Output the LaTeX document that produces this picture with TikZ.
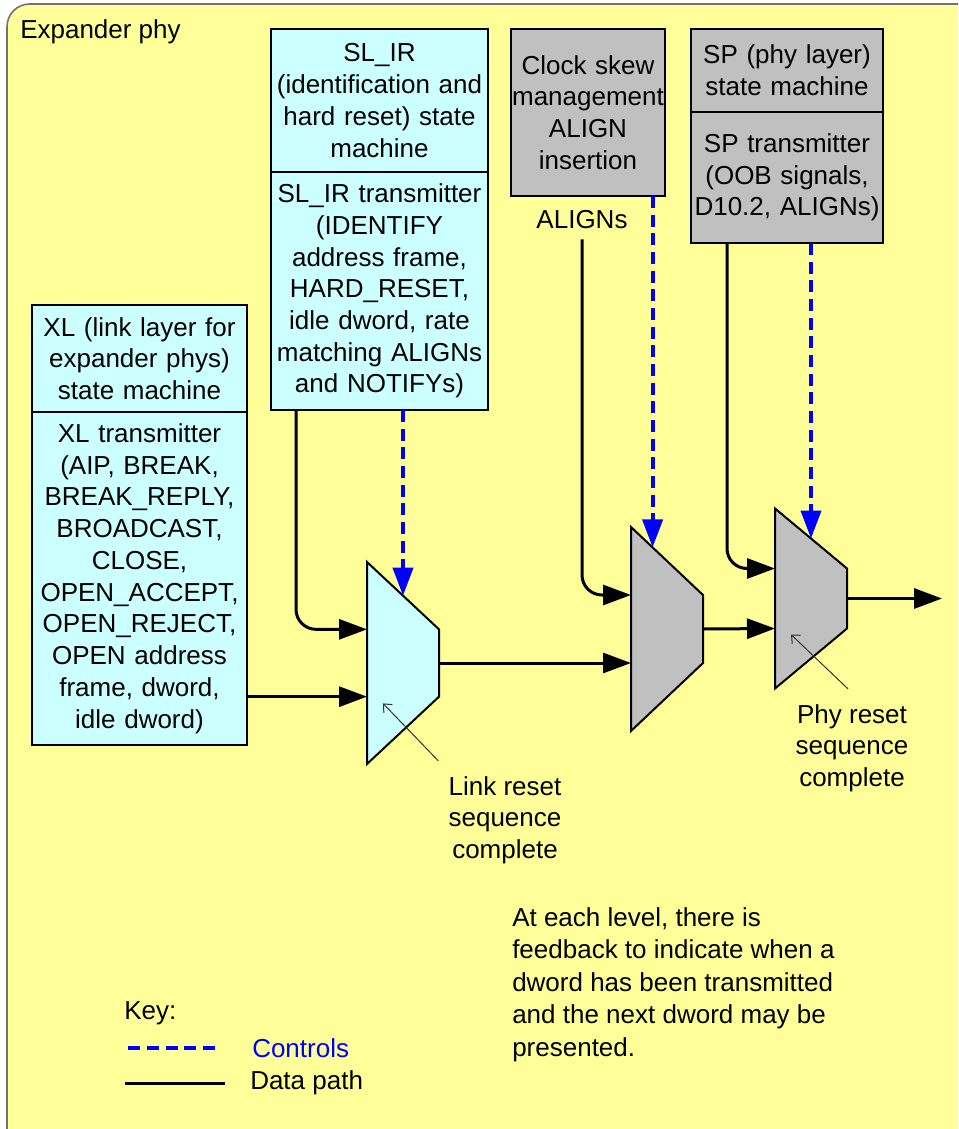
\documentclass[tikz,border=0pt]{standalone}
\usepackage{fontspec}
\setmainfont{Liberation Sans}
\usetikzlibrary{calc}
\usetikzlibrary{positioning}
\usetikzlibrary{arrows.meta}
\usepackage{xcolor}

\definecolor{phyyellow}{HTML}{FFFF99}
\definecolor{phycyan}{HTML}{CCFFFF}
\definecolor{phygray}{HTML}{C0C0C0}

% multiplexer: origin at the middle of the long (left) side
\tikzset{
  pics/mux/.style n args={2}{code={
    \draw[muxline, fill=#1] (0,-#2) coordinate (-tl) -- (72,-#2/3) coordinate (-tr)
      -- (72,#2/3) coordinate (-br) -- (0,#2) coordinate (-bl) -- cycle;
    \coordinate (-in1) at (0,-#2/3);
    \coordinate (-in2) at (0,#2/3);
    \coordinate (-out) at (72,0);
    \coordinate (-ctl) at (36,-2*#2/3);
    \coordinate (-fb) at (16,0.4*#2);
  }}
}

\begin{document}
\begin{tikzpicture}[x=0.75pt, y=-0.75pt]
  \tikzstyle{lbl} = [font=\fontsize{19.5pt}{23.8pt}\selectfont, inner sep=0pt]
  \tikzstyle{xbox} = [lbl, draw, line width=1.5pt, outer sep=0pt, align=center]
  \tikzstyle{muxline} = [draw, line width=1.5pt, line join=miter]
  \tikzstyle{data} = [line width=2.25pt, -{Triangle[length=21pt,width=15pt]}]
  \tikzstyle{ctl} = [blue, line width=3pt, dash pattern=on 9pt off 5pt,
  -{Triangle[length=21pt,width=15pt]}]
  \tikzstyle{fbline} = [black!80, line width=0.75pt, -{Straight Barb[length=5pt,width=9pt]}]

  \useasboundingbox (0,0) rectangle (958,1129);
  \clip (0,0) rectangle (958,1129);
  \draw[fill=phyyellow, draw=black!55, line width=1.2pt, rounded corners=17pt]
    (7,4) rectangle (990,1160);

  \node[lbl, anchor=west] (title) at (20,32) {Expander phy};

  % state machines and transmitters
  \node[xbox, fill=phycyan, anchor=north west, text width=162.75pt, minimum height=107.25pt]
    (slirsm) at (271,29) {SL\_IR\\(identification and\\hard reset) state\\machine};
  \node[xbox, fill=phycyan, below=0pt of slirsm, text width=162.75pt, minimum height=178.5pt]
    (slirtx) {SL\_IR transmitter\\(IDENTIFY\\address frame,\\HARD\_RESET,\\idle dword, rate\\matching ALIGNs\\and NOTIFYs)};

  \node[xbox, fill=phycyan, anchor=north west, text width=161.25pt, minimum height=80.25pt]
    (xlsm) at (32,305) {XL (link layer for\\expander phys)\\state machine};
  \node[xbox, fill=phycyan, below=0pt of xlsm, text width=161.25pt, minimum height=249.75pt]
    (xltx) {XL transmitter\\(AIP, BREAK,\\BREAK\_REPLY,\\BROADCAST,\\CLOSE,\\OPEN\_ACCEPT,\\OPEN\_REJECT,\\OPEN address\\frame, dword,\\idle dword)};

  \node[xbox, fill=phygray, anchor=north west, text width=115.5pt, minimum height=125.25pt]
    (clk) at (511,29) {Clock skew\\management\\ALIGN\\insertion};

  \node[xbox, fill=phygray, anchor=north west, text width=144pt, minimum height=62.25pt]
    (spsm) at (691,29) {SP (phy layer)\\state machine};
  \node[xbox, fill=phygray, below=0pt of spsm, text width=144pt, minimum height=98.25pt]
    (sptx) {SP transmitter\\(OOB signals,\\D10.2, ALIGNs)};

  % multiplexers
  \pic (m1) at (367,663) {mux={phycyan}{101}};
  \pic (m2) at (631,629) {mux={phygray}{102}};
  \pic (m3) at (775,598.5) {mux={phygray}{90}};

  \node[lbl] (aligns) at (582,220) {ALIGNs};
  \node[lbl, align=center] (lrsc) at (505,820) {Link reset\\sequence\\complete};
  \node[lbl, align=center] (prsc) at (852,748) {Phy reset\\sequence\\complete};
  \coordinate (phyout) at (942,598.5);

  % controls
  \draw[ctl] (slirtx.south -| m1-ctl) -- (m1-ctl);
  \coordinate (m2c) at ($(m2-tl)!0.3!(m2-tr)$);
  \draw[ctl] (clk.south -| m2c) -- (m2c);
  \draw[ctl] (sptx.south -| m3-ctl) -- (m3-ctl);

  % data path
  \draw[data, rounded corners=15pt] ($(slirtx.south west)+(25,0)$) |- (m1-in1);
  \draw[data] (xltx.east |- m1-in2) -- (m1-in2);
  \draw[data] (m1-out) -- (m2-in2);
  \draw[data, rounded corners=15pt] ($(aligns.south)+(0,10)$) |- (m2-in1);
  \draw[data] (m2-out) -- (m3-in2);
  \draw[data, rounded corners=15pt] ($(sptx.south west)+(36,0)$) |- (m3-in1);
  \draw[data] (m3-out) -- (phyout);

  % feedback
  \draw[fbline] ($(lrsc.north west)+(-10,-15)$) -- (m1-fb);
  \draw[fbline] ($(prsc.north)+(-4,-15)$) -- (m3-fb);

  \node[lbl, align=left, anchor=north west, font=\fontsize{19.5pt}{24.4pt}\selectfont]
    (note) at (512,907) {At each level, there is\\feedback to indicate when a\\dword has been transmitted\\and the next dword may be\\presented.};

  % key
  \node[lbl, anchor=west] (keyttl) at (124,1013) {Key:};
  \node[lbl, anchor=west, text=blue] (keyctl) at (252,1048) {Controls};
  \node[lbl, anchor=west] (keydat) at (250,1083) {Data path};
  \draw[blue, line width=3pt, dash pattern=on 9pt off 5pt] ($(keyctl.west)+(-37,0)$) -- ++(-90,0);
  \draw[line width=2.25pt] ($(keydat.west)+(-25,0)$) -- ++(-100,0);
\end{tikzpicture}
\end{document}
